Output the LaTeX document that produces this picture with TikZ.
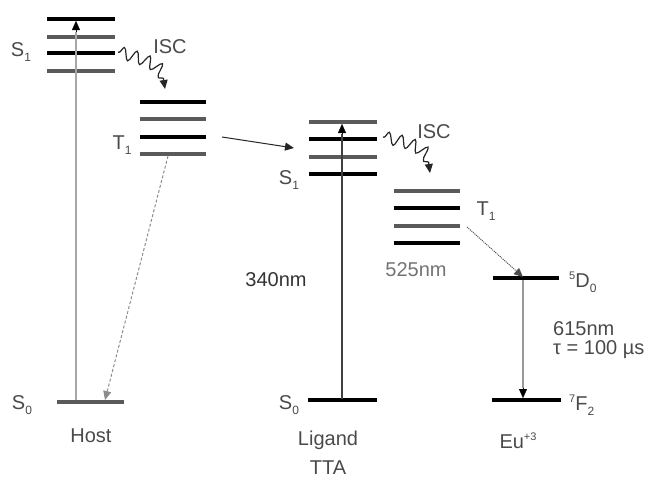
\documentclass[tikz,border=0pt]{standalone}
\usepackage{fontspec}
\setmainfont{Liberation Sans}
\usetikzlibrary{arrows.meta,decorations.pathmorphing}
\newcommand\lsub[1]{\raisebox{-0.5ex}{\fontsize{12}{12}\selectfont #1}}
\newcommand\lsup[1]{\raisebox{0.75ex}{\fontsize{11}{11}\selectfont #1}}
\definecolor{txt}{HTML}{4A4A4A}
\definecolor{barg}{HTML}{5A5A5A}
\begin{document}
\begin{tikzpicture}[x=1pt,y=-1pt,
  lbl/.style={inner sep=0pt,text=txt,font=\fontsize{20}{20}\selectfont},
  barb/.style={line width=3.8pt,black},
  bargr/.style={line width=3.8pt,barg},
  tip/.style={-{Triangle[length=9pt,width=8pt]}},
  squig/.style={tip,black!85,line width=1.2pt,decorate,
    decoration={snake,amplitude=6pt,segment length=13pt,post length=10pt,pre length=1pt}}]
\useasboundingbox (0,0) rectangle (655,479);
% ---------------- Host ----------------
\foreach \y/\s [count=\i] in {19/barb,37/bargr,53/barb,71/bargr}
  \draw[\s] (47,\y) coordinate (hs\i l) -- (115,\y) coordinate (hs\i r);
\foreach \y/\s [count=\i] in {102/barb,119/bargr,137/barb,154/bargr}
  \draw[\s] (140,\y) coordinate (ht\i l) -- (206,\y) coordinate (ht\i r);
\draw[line width=3.6pt,barg] (57,402) coordinate (hS0l) -- (124,402) coordinate (hS0r);
\coordinate (hvb) at (76,400);
\coordinate (hvt) at (76,21);
\draw[black!35,line width=2.6pt] (hvb) -- (76,32);
\draw[tip,black,line width=0.1pt] (76,32) -- (hvt);
\coordinate (hdt) at (168,156);
\coordinate (hdb) at (105,400);
\draw[tip,densely dashed,black!45,line width=1pt] (hdt) -- (hdb);
\coordinate (hisA) at (118,52);
\coordinate (hisB) at (165,89);
\draw[squig] (hisA) .. controls (140,58) and (165,64) .. (hisB);
\node[lbl] (hS1) at (21,52) {S\lsub{1}};
\node[lbl] (hisc) at (170,47) {ISC};
\node[lbl] (hT1) at (122,145) {T\lsub{1}};
\node[lbl] (hS0) at (22,405) {S\lsub{0}};
\node[lbl] (host) at (91,436) {Host};
% ---------------- transfer host -> ligand ----------------
\coordinate (trA) at (222,137);
\coordinate (trB) at (294,148);
\draw[tip,black!85,line width=1pt] (trA) -- (trB);
% ---------------- Ligand ----------------
\foreach \y/\s [count=\i] in {122/bargr,139/barb,157/bargr,174/barb}
  \draw[\s] (309,\y) coordinate (ls\i l) -- (377,\y) coordinate (ls\i r);
\foreach \y/\s [count=\i] in {191/bargr,208/barb,226/bargr,243/barb}
  \draw[\s] (394,\y) coordinate (lt\i l) -- (460,\y) coordinate (lt\i r);
\draw[barb] (308,400) coordinate (lS0l) -- (377,400) coordinate (lS0r);
\coordinate (lvb) at (342,399);
\coordinate (lvt) at (342,124);
\draw[black!75,line width=1.4pt] (lvb) -- (342,134);
\draw[tip,black,line width=0.1pt] (342,134) -- (lvt);
\coordinate (lisA) at (383,137);
\coordinate (lisB) at (430,173);
\draw[squig] (lisA) .. controls (405,142) and (430,146) .. (lisB);
\node[lbl] (lisc) at (434,132) {ISC};
\node[lbl] (lS1) at (289,180) {S\lsub{1}};
\node[lbl] (lT1) at (486,211) {T\lsub{1}};
\node[lbl,text=black!80] (l340) at (276,280) {340nm};
\node[lbl,text=black!55] (l525) at (416,270) {525nm};
\node[lbl] (lS0) at (289,405) {S\lsub{0}};
\node[lbl] (lig) at (328,440) {Ligand};
\node[lbl] (tta) at (328,468) {TTA};
% ---------------- Eu ----------------
\draw[barb] (493,278) coordinate (eDl) -- (559,278) coordinate (eDr);
\draw[barb] (492,400) coordinate (eFl) -- (561,400) coordinate (eFr);
\coordinate (ldt) at (467,227);
\coordinate (ldb) at (523,277);
\draw[tip,densely dotted,black!70,line width=1pt] (ldt) -- (ldb);
\coordinate (evt) at (523,280);
\coordinate (evb) at (523,398);
\draw[black!40,line width=2.6pt] (evt) -- (523,388);
\draw[tip,black,line width=0.1pt] (523,388) -- (evb);
\node[lbl,anchor=west] (eD) at (569,282) {\lsup{5}D\lsub{0}};
\node[lbl,anchor=west] (e615) at (553,329) {615nm};
\node[lbl,anchor=west] (etau) at (553,350) {τ = 100 µs};
\node[lbl,anchor=west] (eF) at (569,405) {\lsup{7}F\lsub{2}};
\node[lbl] (eu) at (518,441) {Eu\lsup{+3}};
\end{tikzpicture}
\end{document}
